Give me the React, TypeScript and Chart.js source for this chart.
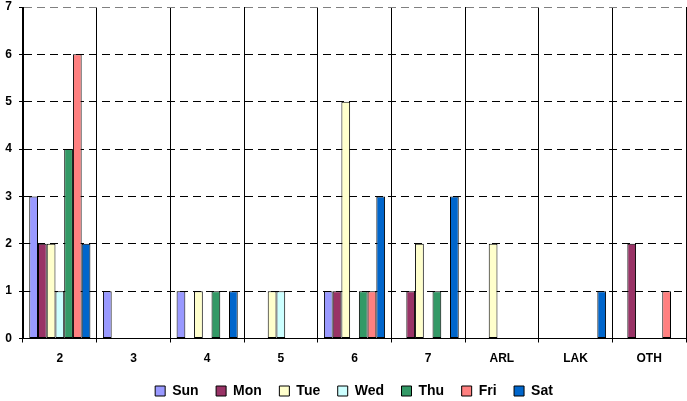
import React, { useEffect, useRef } from "react";
import { Chart, registerables } from "chart.js";

Chart.register(...registerables);

const categories = ["2", "3", "4", "5", "6", "7", "ARL", "LAK", "OTH"];
const seriesNames = ["Sun", "Mon", "Tue", "Wed", "Thu", "Fri", "Sat"];
const sunValues = [3, 1, 1, 0, 1, 0, 0, 0, 0];
const monValues = [2, 0, 0, 0, 1, 1, 0, 0, 2];
const tueValues = [2, 0, 1, 1, 5, 2, 2, 0, 0];
const wedValues = [1, 0, 0, 1, 0, 0, 0, 0, 0];
const thuValues = [4, 0, 1, 0, 1, 1, 0, 0, 0];
const friValues = [6, 0, 0, 0, 1, 0, 0, 0, 1];
const satValues = [2, 0, 1, 0, 3, 3, 0, 1, 0];
const seriesColors = ["#9999FF", "#993366", "#FFFFCC", "#CCFFFF", "#339966", "#FF8080", "#0066CC"];
const yTicks = [0, 1, 2, 3, 4, 5, 6, 7];

const FONT = "'Liberation Sans', Arial, sans-serif";

const legendShift = {
  id: "legendShift",
  afterLayout(chart: any) {
    if (chart.legend) {
      chart.legend.left += 11;
      chart.legend.right += 11;
    }
  },
};

export default function App() {
  const ref = useRef<HTMLCanvasElement | null>(null);
  useEffect(() => {
    if (!ref.current) return;
    const values = [sunValues, monValues, tueValues, wedValues, thuValues, friValues, satValues];
    const chart = new Chart(ref.current, {
      type: "bar",
      data: {
        labels: categories,
        datasets: seriesNames.map((name, i) => ({
          label: name,
          data: values[i].map((v) => (v === 0 ? null : v)),
          backgroundColor: seriesColors[i],
          borderColor: "#000000",
          borderWidth: 1,
          borderSkipped: false,
          barPercentage: 1,
          categoryPercentage: 0.83,
        })),
      },
      plugins: [legendShift],
      options: {
        animation: false,
        responsive: false,
        maintainAspectRatio: false,
        layout: { padding: { top: 7, right: 1, left: 0, bottom: -7 } },
        plugins: {
          tooltip: { enabled: false },
          legend: {
            position: "bottom",
            labels: {
              boxWidth: 10,
              boxHeight: 10,
              padding: 17.5,
              color: "#000000",
              font: { family: FONT, size: 14, weight: "bold" },
            },
          },
        },
        scales: {
          x: {
            offset: true,
            afterFit: (scale: any) => {
              scale.height = 28;
            },
            grid: {
              offset: true,
              color: (ctx: any) => (ctx.index === categories.length ? "#808080" : "#000000"),
              lineWidth: 1,
              drawTicks: true,
              tickLength: 4,
              tickColor: "#000000",
            },
            border: { display: true, color: "#000000", width: 1 },
            ticks: {
              color: "#000000",
              padding: 9,
              font: { family: FONT, size: 12, weight: "bold" },
              maxRotation: 0,
            },
          },
          y: {
            min: 0,
            max: 7,
            afterFit: (scale: any) => {
              scale.width = 23;
              scale.paddingTop = 0;
              scale.paddingBottom = 0;
            },
            afterBuildTicks: (scale: any) => {
              scale.ticks = yTicks.map((v) => ({ value: v }));
            },
            grid: {
              color: (ctx: any) => (ctx.tick && ctx.tick.value === 7 ? "#808080" : "#000000"),
              lineWidth: 1,
              drawTicks: true,
              tickLength: 4,
              tickColor: "#000000",
              tickBorderDash: [],
            },
            border: { display: true, color: "#000000", width: 1, dash: [8, 5] },
            ticks: {
              color: "#000000",
              padding: 7,
              font: { family: FONT, size: 12, weight: "bold" },
            },
          },
        },
      },
    });
    return () => chart.destroy();
  }, []);
  return (
    <div style={{ position: "fixed", left: 0, top: 0, width: 687, height: 401, background: "#ffffff" }}>
      <canvas ref={ref} width={687} height={401} style={{ width: 687, height: 401 }} />
    </div>
  );
}
